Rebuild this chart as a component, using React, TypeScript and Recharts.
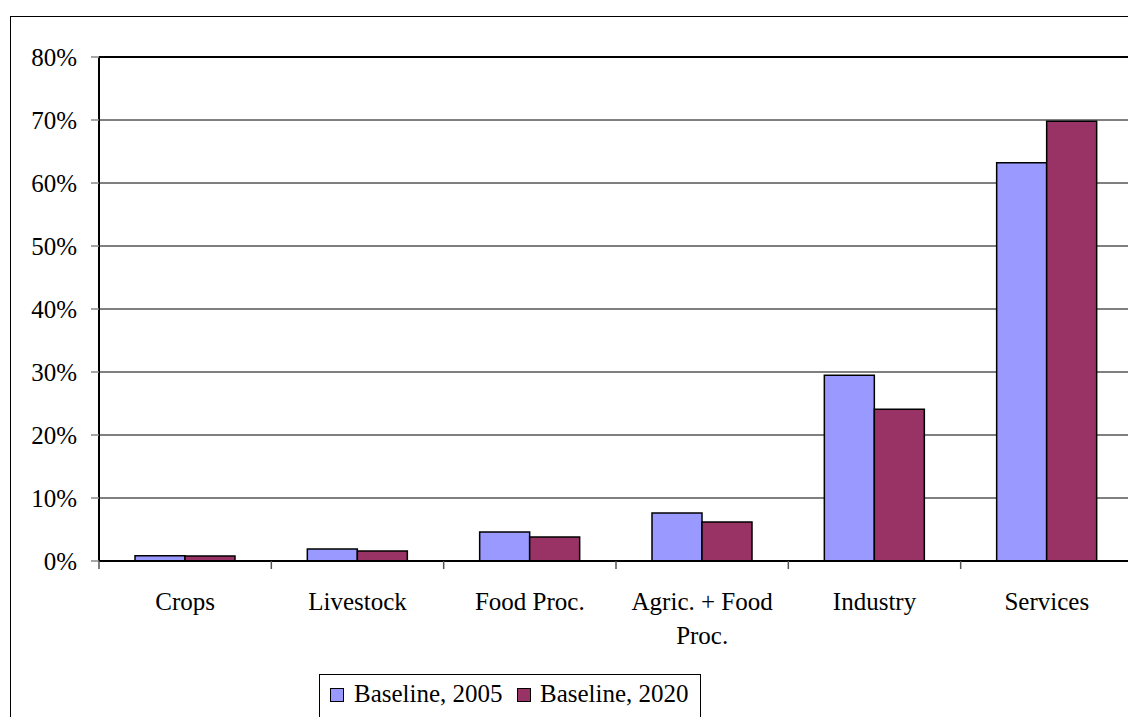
import { BarChart, Bar, XAxis, YAxis, CartesianGrid, ReferenceLine } from "recharts";

const categories = ["Crops", "Livestock", "Food Proc.", "Agric. + Food Proc.", "Industry", "Services"];
const baseline2005 = [0.0085, 0.019, 0.046, 0.076, 0.295, 0.632];
const baseline2020 = [0.008, 0.016, 0.038, 0.062, 0.241, 0.698];
const seriesNames = ["Baseline, 2005", "Baseline, 2020"];
const yTicks = [0, 0.1, 0.2, 0.3, 0.4, 0.5, 0.6, 0.7, 0.8];

const data = categories.map((name, i) => ({
  name,
  b2005: baseline2005[i],
  b2020: baseline2020[i],
}));

const FONT = "'Liberation Serif', 'Times New Roman', serif";
const PLOT_WIDTH = 1034;
const BAND = PLOT_WIDTH / categories.length;

// greedy word wrap, ~14 chars per line fits the band at 25px
function wrap(label: string, max = 14) {
  const lines: string[] = [];
  let cur = "";
  for (const w of label.split(" ")) {
    const next = cur ? cur + " " + w : w;
    if (next.length > max && cur) {
      lines.push(cur);
      cur = w;
    } else cur = next;
  }
  if (cur) lines.push(cur);
  return lines;
}

// category label + tick mark on the left edge of each band
function CategoryTick(props: any) {
  const { x, y, payload } = props;
  const left = x - BAND / 2;
  const lines = wrap(String(payload.value));
  return (
    <g>
      <line x1={left} y1={y} x2={left} y2={y + 8} stroke="#555" strokeWidth={1.5} />
      <text x={x} y={y + 49} textAnchor="middle" style={{ fontFamily: FONT, fontSize: 25, fill: "#000" }}>
        {lines.map((l, i) => (
          <tspan key={i} x={x} dy={i === 0 ? 0 : 34}>
            {l}
          </tspan>
        ))}
      </text>
    </g>
  );
}

export default function App() {
  return (
    <div style={{ position: "absolute", left: 0, top: 0, width: 1128, height: 717, overflow: "hidden", background: "#fff" }}>
      <div
        style={{
          position: "absolute",
          left: 10,
          top: 16,
          width: 1300,
          height: 900,
          border: "1.5px solid #000",
        }}
      />
      <div style={{ position: "absolute", left: 0, top: 0 }}>
        <BarChart
          width={1200}
          height={717}
          data={data}
          margin={{ top: 57, right: 67, bottom: 96, left: 39 }}
          barSize={50}
          barGap={0}
        >
          <CartesianGrid vertical={false} stroke="#000" strokeWidth={1} />
          <XAxis
            dataKey="name"
            tickLine={false}
            tickSize={0}
            tickMargin={0}
            interval={0}
            height={60}
            axisLine={{ stroke: "#000", strokeWidth: 2 }}
            tick={<CategoryTick />}
          />
          <YAxis
            width={60}
            domain={[0, 0.8]}
            ticks={yTicks}
            tickFormatter={(v: number) => `${Math.round(v * 100)}%`}
            tickSize={8}
            tickMargin={14}
            tickLine={{ stroke: "#888", strokeWidth: 1.5 }}
            axisLine={{ stroke: "#000", strokeWidth: 2 }}
            tick={{ fontFamily: FONT, fontSize: 25, fill: "#000" }}
          />
          <ReferenceLine y={0.8} stroke="#000" strokeWidth={2} />
          <Bar dataKey="b2005" name={seriesNames[0]} fill="#9999FF" stroke="#000" strokeWidth={1.5} isAnimationActive={false} />
          <Bar dataKey="b2020" name={seriesNames[1]} fill="#993366" stroke="#000" strokeWidth={1.5} isAnimationActive={false} />
        </BarChart>
      </div>
      <div
        style={{
          position: "absolute",
          left: 319,
          top: 674,
          width: 382,
          height: 100,
          border: "1px solid #000",
          boxSizing: "border-box",
          fontFamily: FONT,
          fontSize: 25,
          color: "#000",
        }}
      >
        <div style={{ position: "absolute", left: 10, top: 13, width: 12, height: 12, background: "#9999FF", border: "1px solid #000" }} />
        <div style={{ position: "absolute", left: 34, top: 0, lineHeight: "38px", whiteSpace: "nowrap" }}>{seriesNames[0]}</div>
        <div style={{ position: "absolute", left: 197, top: 13, width: 12, height: 12, background: "#993366", border: "1px solid #000" }} />
        <div style={{ position: "absolute", left: 220, top: 0, lineHeight: "38px", whiteSpace: "nowrap" }}>{seriesNames[1]}</div>
      </div>
    </div>
  );
}
